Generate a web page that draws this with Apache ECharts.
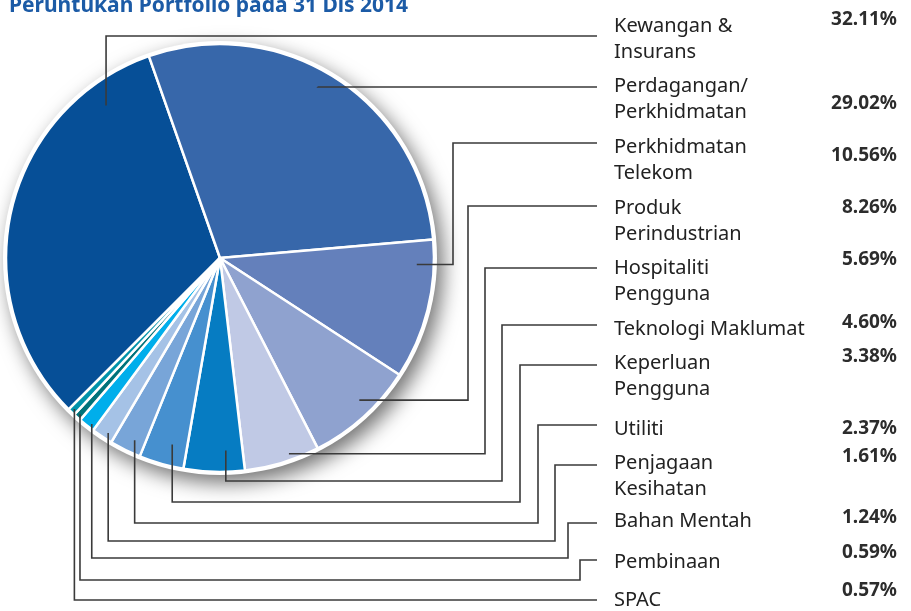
<!DOCTYPE html>
<html>
<head>
<meta charset="utf-8">
<script src="https://cdn.jsdelivr.net/npm/echarts@6/dist/echarts.min.js"></script>
<style>
  html, body { margin: 0; padding: 0; background: #fff; }
  #chart { width: 911px; height: 611px; }
</style>
</head>
<body>
<div id="chart"></div>
<script>
// data, in label order (pie runs clockwise from Kewangan)
const sectors = [
    "Kewangan &\nInsurans",
    "Perdagangan/\nPerkhidmatan",
    "Perkhidmatan\nTelekom",
    "Produk\nPerindustrian",
    "Hospitaliti\nPengguna",
    "Teknologi Maklumat",
    "Keperluan\nPengguna",
    "Utiliti",
    "Penjagaan\nKesihatan",
    "Bahan Mentah",
    "Pembinaan",
    "SPAC"
];
const shares = [32.11, 29.02, 10.56, 8.26, 5.69, 4.60, 3.38, 2.37, 1.61, 1.24, 0.59, 0.57];
const colors = [
    "#064f97", "#3767aa", "#6480bb", "#8fa2cf", "#c0c9e5", "#067cc2",
    "#4690cf", "#78a5d8", "#a5c2e6", "#00aeeb", "#00727a", "#0092aa"
];

// layout (px)
const CENTER = [220, 258];
const RADIUS = 214;
const START_ANGLE = 225;
const NAME_X = 614;
const PCT_X = 897;
const LINE_END = 597;
const LINE_H = 26;
const nameY = [26, 86, 147, 208, 268, 329, 363, 429, 463, 521, 562, 600];   // first text line
const pctY = [20, 104, 156, 208, 260, 323, 357, 429, 457, 518, 553, 591];
const lineY = [36, 87, 143, 206, 268, 325, 365, 425, 465, 523, 560, 600];
const anchorT = [0.85, 0.47, 0.18, 0.42, 0.38, 0.3, 0.37, 0.36, 0.35, 0.3, 0.5, 0.5];
const anchorR = [0.89, 0.92, 0.92, 0.93, 0.97, 0.9, 0.9, 0.94, 0.97, 0.98, 0.98, 0.98];
const dropY = [null, null, null, null, null, 481, 502, 523, 541, 558, 580, null];
const elbowX = [null, null, 453, 468, 485, 502, 520, 538, 555, 568, 580, null];

const total = shares.reduce((a, b) => a + b, 0);

function anchorPoint(i) {
    let before = 0;
    for (let k = 0; k < i; k++) before += shares[k];
    const frac = (before + shares[i] * anchorT[i]) / total;
    const ang = (START_ANGLE - frac * 360) * Math.PI / 180;
    const r = RADIUS * anchorR[i];
    return [CENTER[0] + r * Math.cos(ang), CENTER[1] - r * Math.sin(ang)];
}

function leaderPoints(i) {
    const a = anchorPoint(i);
    const pts = [a];
    let y = a[1];
    if (dropY[i] != null) {
        pts.push([a[0], dropY[i]]);
        y = dropY[i];
    }
    if (elbowX[i] != null) {
        pts.push([elbowX[i], y]);
        pts.push([elbowX[i], lineY[i]]);
    } else {
        pts.push([a[0], lineY[i]]);
    }
    pts.push([LINE_END, lineY[i]]);
    return pts;
}

const FONT = "'Noto Sans', 'Open Sans', sans-serif";

const chart = echarts.init(document.getElementById("chart"));
chart.setOption({
    animation: false,
    title: {
        text: "Peruntukan Portfolio pada 31 Dis 2014",
        left: 4,
        top: -9,
        textStyle: { fontSize: 21, fontWeight: "bold", color: "#1c5ba6", fontFamily: FONT }
    },
    series: [
        {
            // white rim + drop shadow under the pie
            type: "pie",
            silent: true,
            z: 1,
            center: CENTER,
            radius: RADIUS + 3,
            data: [{ value: total }],
            itemStyle: {
                color: "#fff",
                shadowBlur: 20,
                shadowColor: "rgba(0,0,0,0.55)",
                shadowOffsetX: 6,
                shadowOffsetY: 8
            },
            label: { show: false },
            labelLine: { show: false }
        },
        {
            // the slices, with the percentage column
            type: "pie",
            silent: true,
            z: 2,
            center: CENTER,
            radius: RADIUS,
            startAngle: START_ANGLE,
            clockwise: true,
            avoidLabelOverlap: false,
            data: sectors.map((name, i) => ({
                name: name,
                value: shares[i],
                itemStyle: { color: colors[i] }
            })),
            itemStyle: { borderColor: "#fff", borderWidth: 2.5 },
            label: {
                show: true,
                position: "outside",
                formatter: (p) => p.value.toFixed(2) + "%",
                fontFamily: FONT,
                fontSize: 19,
                fontWeight: "bold",
                color: "#2c2c2c",
                width: 90,
                overflow: "none"
            },
            labelLine: { show: false },
            labelLayout: function (params) {
                const i = params.dataIndex;
                return {
                    x: PCT_X,
                    y: pctY[i],
                    align: "right",
                    verticalAlign: "middle"
                };
            }
        },
        {
            // names and leader lines, drawn above the slices
            type: "pie",
            silent: true,
            z: 3,
            center: CENTER,
            radius: RADIUS,
            startAngle: START_ANGLE,
            clockwise: true,
            avoidLabelOverlap: false,
            data: sectors.map((name, i) => ({ name: name, value: shares[i] })),
            itemStyle: { color: "rgba(0,0,0,0)", borderWidth: 0 },
            label: {
                show: true,
                position: "outside",
                formatter: "{b}",
                fontFamily: FONT,
                fontSize: 20,
                lineHeight: LINE_H,
                color: "#222",
                width: 280,
                overflow: "none"
            },
            labelLine: {
                show: true,
                smooth: false,
                lineStyle: { color: "#3a3a3a", width: 1.6 }
            },
            labelLayout: function (params) {
                const i = params.dataIndex;
                return {
                    x: NAME_X,
                    y: nameY[i] - LINE_H / 2,
                    align: "left",
                    verticalAlign: "top",
                    labelLinePoints: leaderPoints(i)
                };
            }
        }
    ]
});
</script>
</body>
</html>
